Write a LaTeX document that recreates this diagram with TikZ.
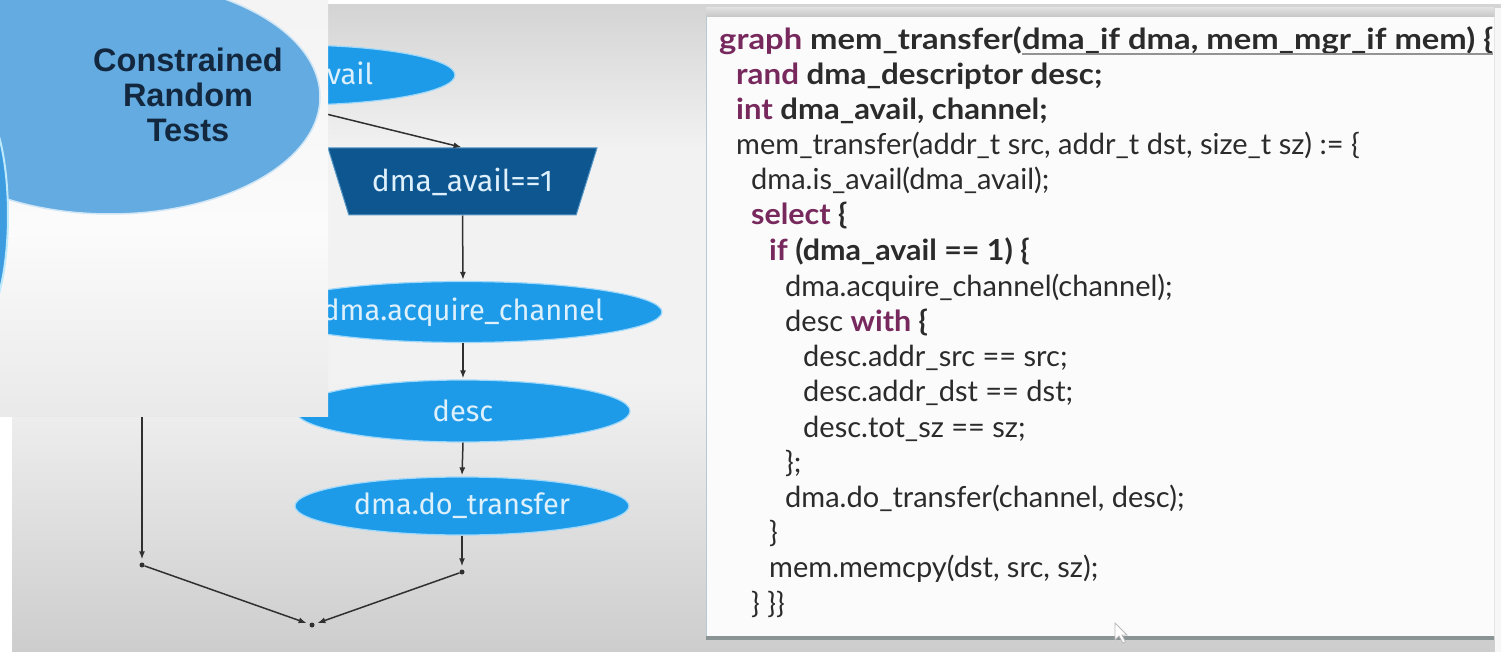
\documentclass[tikz,border=0pt]{standalone}
\usepackage{graphicx}
\usepackage{fontspec}
\setmainfont{Lato}
\newfontfamily\codefont{Lato}
\newfontfamily\nodefont{Fira Sans}
\newfontfamily\titlefont{Liberation Sans}
\usetikzlibrary{shapes.geometric,arrows.meta}

\definecolor{slidetop}{HTML}{D4D4D4}
\definecolor{slidemid}{HTML}{F2F2F2}
\definecolor{slidebot}{HTML}{CDCDCD}
\definecolor{flowblue}{HTML}{1E9BE8}
\definecolor{flowrim}{HTML}{9FD8FA}
\definecolor{flowdark}{HTML}{0E5690}
\definecolor{flowtext}{HTML}{DDF0FC}
\definecolor{bubble}{HTML}{63ABE0}
\definecolor{bubbleedge}{HTML}{3D9CE0}
\definecolor{navy}{HTML}{13283E}
\definecolor{kw}{HTML}{77285C}
\definecolor{codeink}{HTML}{2B2B2B}
\definecolor{linkink}{HTML}{303030}
\definecolor{panelshadow}{HTML}{8A9494}
\definecolor{panelleft}{HTML}{B9C9D3}

% bold listing lines are set a little wider, as in a heavy humanist sans
\newcommand{\widebold}[2]{\scalebox{#1}[1]{\bfseries #2}}

\begin{document}
\begin{tikzpicture}[x=1pt,y=-1pt,
  vshade/.style 2 args={top color=#1, bottom color=#2},
  flownode/.style={ellipse, fill=flowblue, draw=flowrim, line width=1.2pt,
    text=flowtext, font=\nodefont\fontsize{29}{34}\selectfont,
    inner sep=0pt, minimum width=334pt, minimum height=60pt},
  condnode/.style={trapezium, shape border rotate=180,
    trapezium left angle=53, trapezium right angle=53,
    trapezium stretches body, minimum width=269pt, minimum height=67pt,
    fill=flowdark, draw=flowrim!50!flowdark, line width=1pt,
    text=flowtext, font=\nodefont\fontsize{30}{34}\selectfont, inner sep=0pt},
  joint/.style={circle, fill=linkink, inner sep=0pt, minimum size=5pt},
  link/.style={draw=linkink, line width=1.5pt,
    -{Latex[length=8pt,width=6pt]}, shorten >=1pt},
  codeline/.style={anchor=base west, inner sep=0pt, text=codeink,
    font=\codefont\fontsize{29}{35}\selectfont},
  uline/.style={draw=gray!85, line width=1.8pt}
]
\useasboundingbox (0,0) rectangle (1501,652);

% page and slide background: grey bands at top and bottom, light in between
\fill[white] (0,0) rectangle (1501,652);
\fill[slidemid] (12,5) rectangle (1501,652);
\shade[vshade={slidetop}{slidemid}] (12,5) rectangle (1501,150);
\shade[vshade={slidemid}{slidebot}] (12,380) rectangle (1501,652);

% code panel
\fill[white!97!gray] (706,17) rectangle (1494,637);
\shade[vshade={gray!25}{gray!45}] (706,8) rectangle (1494,17);
\draw[panelleft, line width=1.5pt] (706.5,17) -- (706.5,637);
\draw[gray!20, line width=1pt] (1494,17) -- (1494,637);
\fill[white!94!gray] (1494.5,8) rectangle (1501,652);
\fill[panelshadow] (706,636) rectangle (1494,640);

% flowchart
\node[flownode, minimum width=326pt] (avail) at (292,75) {dma.is\_avail};
\node[condnode] (cond) at (462.5,181.5) {dma\_avail==1};
\node[flownode, minimum height=61pt] (acq) at (463,312) {dma.acquire\_channel};
\node[flownode, minimum height=62pt] (desc) at (463,411) {desc};
\node[flownode, minimum height=58pt] (xfer) at (462,506) {dma.do\_transfer};
\node[joint] (p2) at (462,572) {};
\node[joint] (p1) at (142,565) {};
\node[joint] (join) at (312,625) {};
\coordinate (elsebranch) at (142,230);

\draw[link] (avail.south) -- (cond.north);
\draw[link] (cond.south) -- (acq.north);
\draw[link] (acq.south) -- (desc.north);
\draw[link] (desc.south) -- (xfer.north);
\draw[link, shorten >=3pt] (xfer.south) -- (p2);
\draw[link, shorten >=3pt] (p2) -- (join);
\draw[link, shorten >=3pt] (elsebranch) -- (p1);
\draw[link, shorten >=3pt] (p1) -- (join);

% inset panel on top
\begin{scope}
  \clip (0,0) rectangle (328,416);
  \fill[white!97!gray] (0,0) rectangle (328,416);
  \shade[vshade={white!91!gray}{white!97!gray}] (0,0) rectangle (328,230);
  \shade[vshade={white!97!gray}{white!83!gray}] (0,230) rectangle (328,416);
  \filldraw[fill=bubble, draw=white!70!bubble, line width=1.5pt]
    (110,97) ellipse [x radius=210, y radius=117];
  \filldraw[fill=bubbleedge, draw=white!75!cyan, line width=2pt]
    (-22,215) ellipse [x radius=30, y radius=110];
  \node[font=\titlefont\bfseries\fontsize{32.5}{35}\selectfont, text=navy,
    align=center, inner sep=0pt] (crt) at (188,95) {Constrained\\Random\\Tests};
\end{scope}

% source listing
\node[codeline] (l1a) at (719,50) {\widebold{1.13}{\textcolor{kw}{graph} mem\_transfer(}};
\node[codeline] (l1b) at (l1a.base east) {\widebold{1.13}{dma\_if dma, mem\_mgr\_if mem) \{}};
\draw[uline] ([yshift=-4pt]l1b.base west) -- ([yshift=-4pt]l1b.base east);
\node[codeline] (l2) at (736,85) {\widebold{1.08}{\textcolor{kw}{rand} dma\_descriptor desc;}};
\node[codeline] (l3) at (736,120) {\widebold{1.07}{\textcolor{kw}{int} dma\_avail, channel;}};
\node[codeline] (l4) at (736,155) {mem\_transfer(addr\_t src, addr\_t dst, size\_t sz) := \{};
\node[codeline] (l5) at (751,190) {dma.is\_avail(dma\_avail);};
\node[codeline] (l6) at (751,225) {\widebold{1.05}{\textcolor{kw}{select} \{}};
\node[codeline] (l7) at (769,261) {\widebold{1.05}{\textcolor{kw}{if} (dma\_avail == 1) \{}};
\node[codeline] (l8) at (785,296) {dma.acquire\_channel(channel);};
\node[codeline] (l9) at (785,331) {desc \widebold{1.05}{\textcolor{kw}{with} \{}};
\node[codeline] (l10) at (803,366) {desc.addr\_src == src;};
\node[codeline] (l11) at (803,401) {desc.addr\_dst == dst;};
\node[codeline] (l12) at (803,437) {desc.tot\_sz == sz;};
\node[codeline] (l13) at (785,472) {\};};
\node[codeline] (l14) at (785,507) {dma.do\_transfer(channel, desc);};
\node[codeline] (l15) at (769,542) {\}};
\node[codeline] (l16) at (769,577) {mem.memcpy(dst, src, sz);};
\node[codeline] (l17) at (751,613) {\} \}\}};

% mouse pointer
\draw[gray!55, line width=0.8pt, fill=white]
  (1115,623) -- (1115,640) -- (1119,636) -- (1123,643) -- (1125.5,642)
  -- (1122,635) -- (1127,635) -- cycle;
\end{tikzpicture}
\end{document}
